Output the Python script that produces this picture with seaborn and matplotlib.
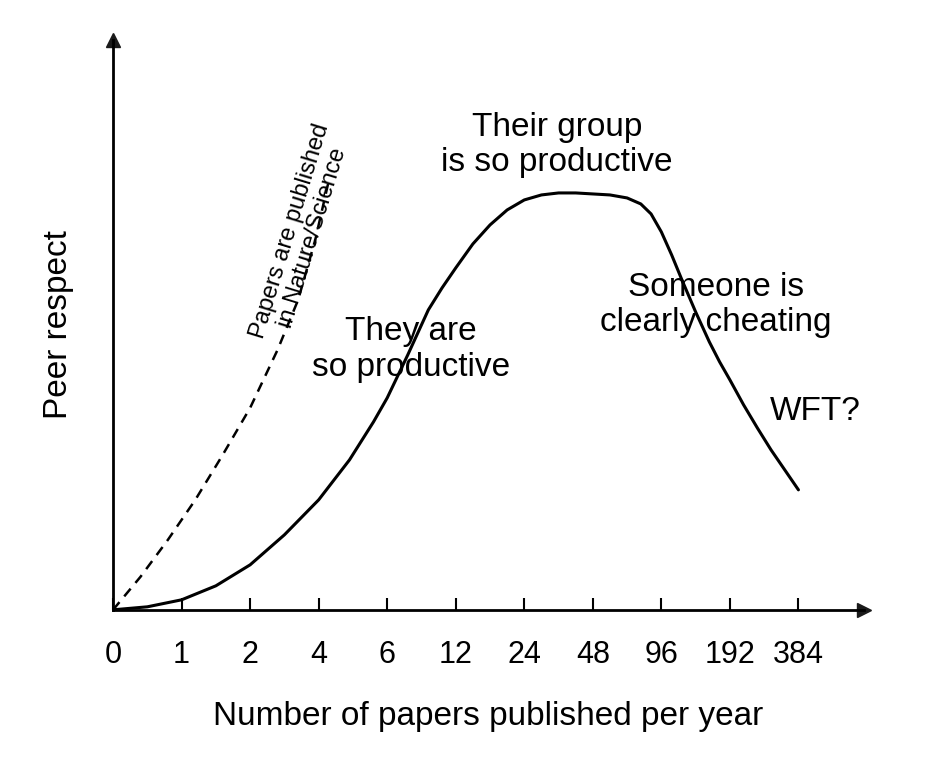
import matplotlib
matplotlib.use("Agg")
import matplotlib.pyplot as plt
import seaborn as sns

sns.set_theme(style="white")
plt.rcParams['font.family'] = ['Liberation Sans', 'DejaVu Sans']
plt.rcParams['text.color'] = 'black'
plt.rcParams['axes.labelcolor'] = 'black'
plt.rcParams['xtick.color'] = 'black'

tick_labels = ["0", "1", "2", "4", "6", "12", "24", "48", "96", "192", "384"]
tick_pos = list(range(len(tick_labels)))

solid_x = [0, 0.5, 1.0, 1.5, 2.0, 2.5, 3.0, 3.45, 3.8, 4.0, 4.3, 4.6, 4.8, 5.0, 5.25, 5.5, 5.75, 6.0, 6.25, 6.5, 6.75, 7.0, 7.25, 7.5, 7.7, 7.85, 8.0, 8.15, 8.3, 8.5, 8.7, 8.85, 9.0, 9.2, 9.4, 9.6, 9.8, 10.0]
solid_y = [0, 0.03, 0.10, 0.24, 0.45, 0.75, 1.10, 1.50, 1.88, 2.12, 2.55, 3.00, 3.22, 3.42, 3.66, 3.85, 4.00, 4.10, 4.15, 4.17, 4.17, 4.16, 4.15, 4.12, 4.06, 3.96, 3.78, 3.55, 3.30, 2.98, 2.68, 2.48, 2.30, 2.05, 1.82, 1.60, 1.40, 1.20]

dash_x = [0, 0.4, 0.8, 1.2, 1.6, 2.0, 2.4, 2.7, 2.95, 3.15]
dash_y = [0, 0.33, 0.70, 1.10, 1.55, 2.02, 2.60, 3.10, 3.70, 4.30]

fig = plt.figure(figsize=(9.5, 7.69), dpi=100)
ax = fig.add_axes([0.119, 0.207, 0.79, 0.741])

sns.lineplot(x=solid_x, y=solid_y, ax=ax, color="black", lw=2.2)
sns.lineplot(x=dash_x, y=dash_y, ax=ax, color="black", lw=1.8, linestyle=(0, (4, 3)))

ax.set_xlim(0, 10.95)
ax.set_ylim(0, 5.7)
for s in ["top", "right"]:
    ax.spines[s].set_visible(False)
for s in ["left", "bottom"]:
    ax.spines[s].set_color("black")
    ax.spines[s].set_linewidth(2)
ax.plot(1, 0, ">k", transform=ax.transAxes, clip_on=False, ms=10)
ax.plot(0, 1, "^k", transform=ax.transAxes, clip_on=False, ms=10)

ax.set_xticks(tick_pos)
ax.set_xticklabels(tick_labels, fontsize=22)
ax.set_yticks([])
ax.tick_params(axis="x", direction="in", length=9, width=1.5, color="black", pad=22, bottom=True)
ax.set_xlabel("Number of papers published per year", fontsize=24, labelpad=22)
ax.set_ylabel("Peer respect", fontsize=24, labelpad=28)

ax.text(4.35, 2.6, "They are\nso productive", fontsize=24, ha="center", va="center", linespacing=1.2)
ax.text(6.48, 4.65, "Their group\nis so productive", fontsize=24, ha="center", va="center", linespacing=1.2)
ax.text(8.8, 3.05, "Someone is\nclearly cheating", fontsize=24, ha="center", va="center", linespacing=1.2)
ax.text(10.25, 1.98, "WFT?", fontsize=24, ha="center", va="center")
ax.text(2.75, 3.75, "Papers are published\nin Nature/Science", fontsize=17, ha="center", va="center",
        rotation=73, linespacing=1.1)

fig.savefig("out.png", dpi=100)
